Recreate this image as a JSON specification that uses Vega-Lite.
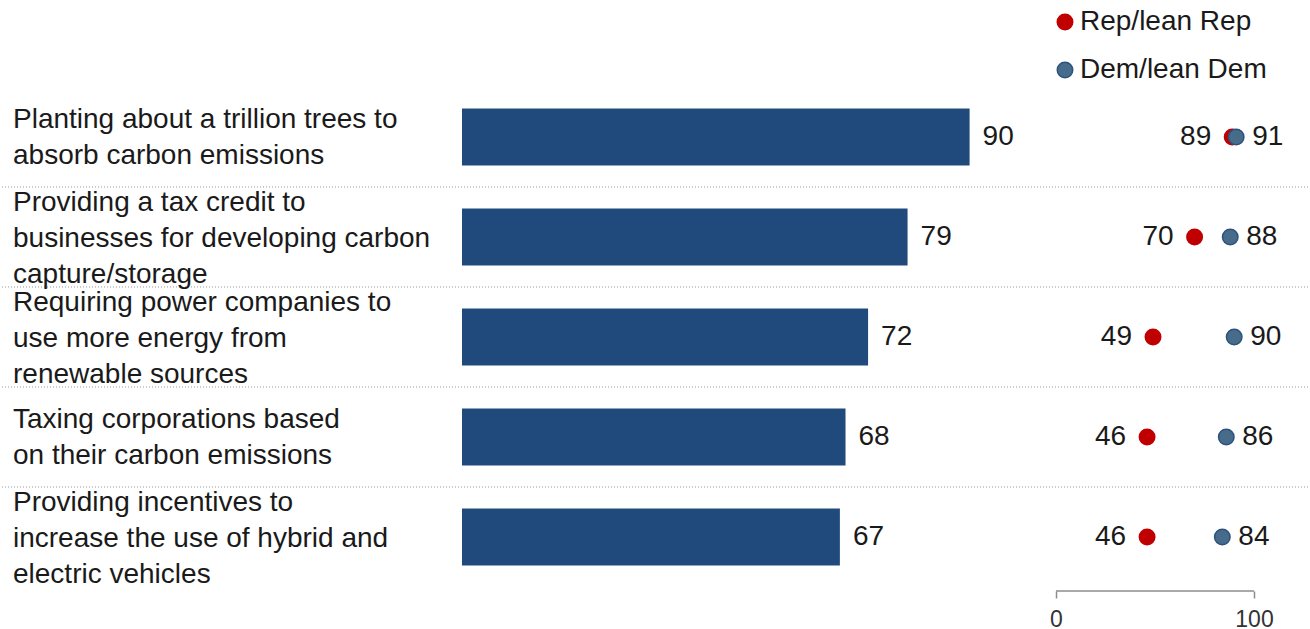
{
  "$schema": "https://vega.github.io/schema/vega-lite/v6.json",
  "padding": 0,
  "spacing": 0,
  "bounds": "flush",
  "background": "white",
  "config": {
    "view": {"stroke": null},
    "font": "Liberation Sans",
    "concat": {"spacing": 0}
  },
  "datasets": {
    "items": [
      {"id": 1, "label": "Planting about a trillion trees to\nabsorb carbon emissions", "total": 90},
      {"id": 2, "label": "Providing a tax credit to\nbusinesses for developing carbon\ncapture/storage", "total": 79},
      {"id": 3, "label": "Requiring power companies to\nuse more energy from\nrenewable sources", "total": 72},
      {"id": 4, "label": "Taxing corporations based\non their carbon emissions", "total": 68},
      {"id": 5, "label": "Providing incentives to\nincrease the use of hybrid and\nelectric vehicles", "total": 67}
    ],
    "parties": [
      {"id": 1, "party": "Rep/lean Rep", "value": 89},
      {"id": 1, "party": "Dem/lean Dem", "value": 91},
      {"id": 2, "party": "Rep/lean Rep", "value": 70},
      {"id": 2, "party": "Dem/lean Dem", "value": 88},
      {"id": 3, "party": "Rep/lean Rep", "value": 49},
      {"id": 3, "party": "Dem/lean Dem", "value": 90},
      {"id": 4, "party": "Rep/lean Rep", "value": 46},
      {"id": 4, "party": "Dem/lean Dem", "value": 86},
      {"id": 5, "party": "Rep/lean Rep", "value": 46},
      {"id": 5, "party": "Dem/lean Dem", "value": 84}
    ]
  },
  "hconcat": [
    {
      "width": 461,
      "height": 591,
      "data": {"name": "items"},
      "layer": [
        {
          "transform": [{"filter": "datum.id < 5"}],
          "mark": {"type": "rule", "strokeDash": [1, 2], "color": "#999999", "strokeWidth": 1},
          "encoding": {
            "y": {"field": "id", "type": "ordinal", "bandPosition": 1, "axis": null,
                  "scale": {"domain": [1, 2, 3, 4, 5], "paddingInner": 0, "paddingOuter": 0.455, "align": 0.956}}
          }
        },
        {
          "transform": [{"filter": "length(split(datum.label, '\\n')) == 2"}],
          "mark": {"type": "text", "align": "left", "baseline": "middle", "dx": 12, "dy": -17, "fontSize": 28, "lineHeight": 36, "lineBreak": "\n", "color": "#1a1a1a"},
          "encoding": {
            "x": {"value": 0},
            "y": {"field": "id", "type": "ordinal", "axis": null,
                  "scale": {"domain": [1, 2, 3, 4, 5], "paddingInner": 0, "paddingOuter": 0.455, "align": 0.956}},
            "text": {"field": "label"}
          }
        },
        {
          "transform": [{"filter": "length(split(datum.label, '\\n')) == 3"}],
          "mark": {"type": "text", "align": "left", "baseline": "middle", "dx": 12, "dy": -34, "fontSize": 28, "lineHeight": 36, "lineBreak": "\n", "color": "#1a1a1a"},
          "encoding": {
            "x": {"value": 0},
            "y": {"field": "id", "type": "ordinal", "axis": null,
                  "scale": {"domain": [1, 2, 3, 4, 5], "paddingInner": 0, "paddingOuter": 0.455, "align": 0.956}},
            "text": {"field": "label"}
          }
        }
      ]
    },
    {
      "width": 564,
      "height": 591,
      "data": {"name": "items"},
      "layer": [
        {
          "transform": [{"filter": "datum.id < 5"}],
          "mark": {"type": "rule", "strokeDash": [1, 2], "color": "#999999", "strokeWidth": 1},
          "encoding": {
            "y": {"field": "id", "type": "ordinal", "bandPosition": 1, "axis": null,
                  "scale": {"domain": [1, 2, 3, 4, 5], "paddingInner": 0, "paddingOuter": 0.455, "align": 0.956}}
          }
        },
        {
          "mark": {"type": "bar", "color": "#214a7c", "height": {"band": 0.57}},
          "encoding": {
            "x": {"field": "total", "type": "quantitative", "axis": null, "scale": {"domain": [0, 100], "nice": false}},
            "y": {"field": "id", "type": "ordinal", "axis": null,
                  "scale": {"domain": [1, 2, 3, 4, 5], "paddingInner": 0, "paddingOuter": 0.455, "align": 0.956}}
          }
        },
        {
          "mark": {"type": "text", "align": "left", "baseline": "middle", "dx": 13, "fontSize": 28, "color": "#1a1a1a"},
          "encoding": {
            "x": {"field": "total", "type": "quantitative", "axis": null, "scale": {"domain": [0, 100], "nice": false}},
            "y": {"field": "id", "type": "ordinal", "axis": null,
                  "scale": {"domain": [1, 2, 3, 4, 5], "paddingInner": 0, "paddingOuter": 0.455, "align": 0.956}},
            "text": {"field": "total"}
          }
        }
      ]
    },
    {
      "width": 285,
      "height": 591,
      "data": {"name": "parties"},
      "layer": [
        {
          "data": {"name": "items"},
          "transform": [{"filter": "datum.id < 5"}],
          "mark": {"type": "rule", "strokeDash": [1, 2], "color": "#999999", "strokeWidth": 1},
          "encoding": {
            "y": {"field": "id", "type": "ordinal", "bandPosition": 1, "axis": null,
                  "scale": {"domain": [1, 2, 3, 4, 5], "paddingInner": 0, "paddingOuter": 0.455, "align": 0.956}}
          }
        },
        {
          "data": {"values": [{}]},
          "mark": {"type": "rule", "color": "#8c8c8c", "strokeWidth": 1.5},
          "encoding": {
            "x": {"datum": 0, "type": "quantitative"},
            "x2": {"datum": 100},
            "y": {"value": "height"}
          }
        },
        {
          "mark": {"type": "point", "filled": true, "size": 240, "opacity": 1, "strokeWidth": 1.5},
          "encoding": {
            "x": {"field": "value", "type": "quantitative",
                  "scale": {"domain": [-15.15, 128.79], "nice": false, "zero": false},
                  "axis": {"values": [0, 100], "domain": false, "grid": false, "ticks": true, "tickSize": 7, "tickColor": "#8c8c8c", "tickWidth": 1.5, "labelFontSize": 23, "labelColor": "#333333", "labelPadding": 10, "title": null, "labelFont": "Liberation Sans"}},
            "y": {"field": "id", "type": "ordinal", "axis": null,
                  "scale": {"domain": [1, 2, 3, 4, 5], "paddingInner": 0, "paddingOuter": 0.455, "align": 0.956}},
            "color": {"field": "party", "type": "nominal",
                      "scale": {"domain": ["Rep/lean Rep", "Dem/lean Dem"], "range": ["#c00000", "#466b8b"]},
                      "legend": {"title": null, "orient": "none", "legendX": 1050, "legendY": 8, "symbolSize": 240, "symbolType": "circle", "labelFontSize": 28, "labelColor": "#1a1a1a", "rowPadding": 20, "labelOffset": 1, "labelLimit": 400, "labelFont": "Liberation Sans"}},
            "stroke": {"field": "party", "type": "nominal",
                       "scale": {"domain": ["Rep/lean Rep", "Dem/lean Dem"], "range": ["#c00000", "#2d527c"]},
                       "legend": {"title": null, "orient": "none", "legendX": 1050, "legendY": 8, "symbolSize": 240, "symbolType": "circle", "labelFontSize": 28, "labelColor": "#1a1a1a", "rowPadding": 20, "labelOffset": 1, "labelLimit": 400, "labelFont": "Liberation Sans"}}
          }
        },
        {
          "transform": [{"filter": "datum.party == 'Rep/lean Rep'"}],
          "mark": {"type": "text", "align": "right", "baseline": "middle", "dx": -21, "fontSize": 28, "color": "#1a1a1a"},
          "encoding": {
            "x": {"field": "value", "type": "quantitative"},
            "y": {"field": "id", "type": "ordinal", "axis": null,
                  "scale": {"domain": [1, 2, 3, 4, 5], "paddingInner": 0, "paddingOuter": 0.455, "align": 0.956}},
            "text": {"field": "value"}
          }
        },
        {
          "transform": [{"filter": "datum.party == 'Dem/lean Dem'"}],
          "mark": {"type": "text", "align": "left", "baseline": "middle", "dx": 16, "fontSize": 28, "color": "#1a1a1a"},
          "encoding": {
            "x": {"field": "value", "type": "quantitative"},
            "y": {"field": "id", "type": "ordinal", "axis": null,
                  "scale": {"domain": [1, 2, 3, 4, 5], "paddingInner": 0, "paddingOuter": 0.455, "align": 0.956}},
            "text": {"field": "value"}
          }
        }
      ]
    }
  ]
}
